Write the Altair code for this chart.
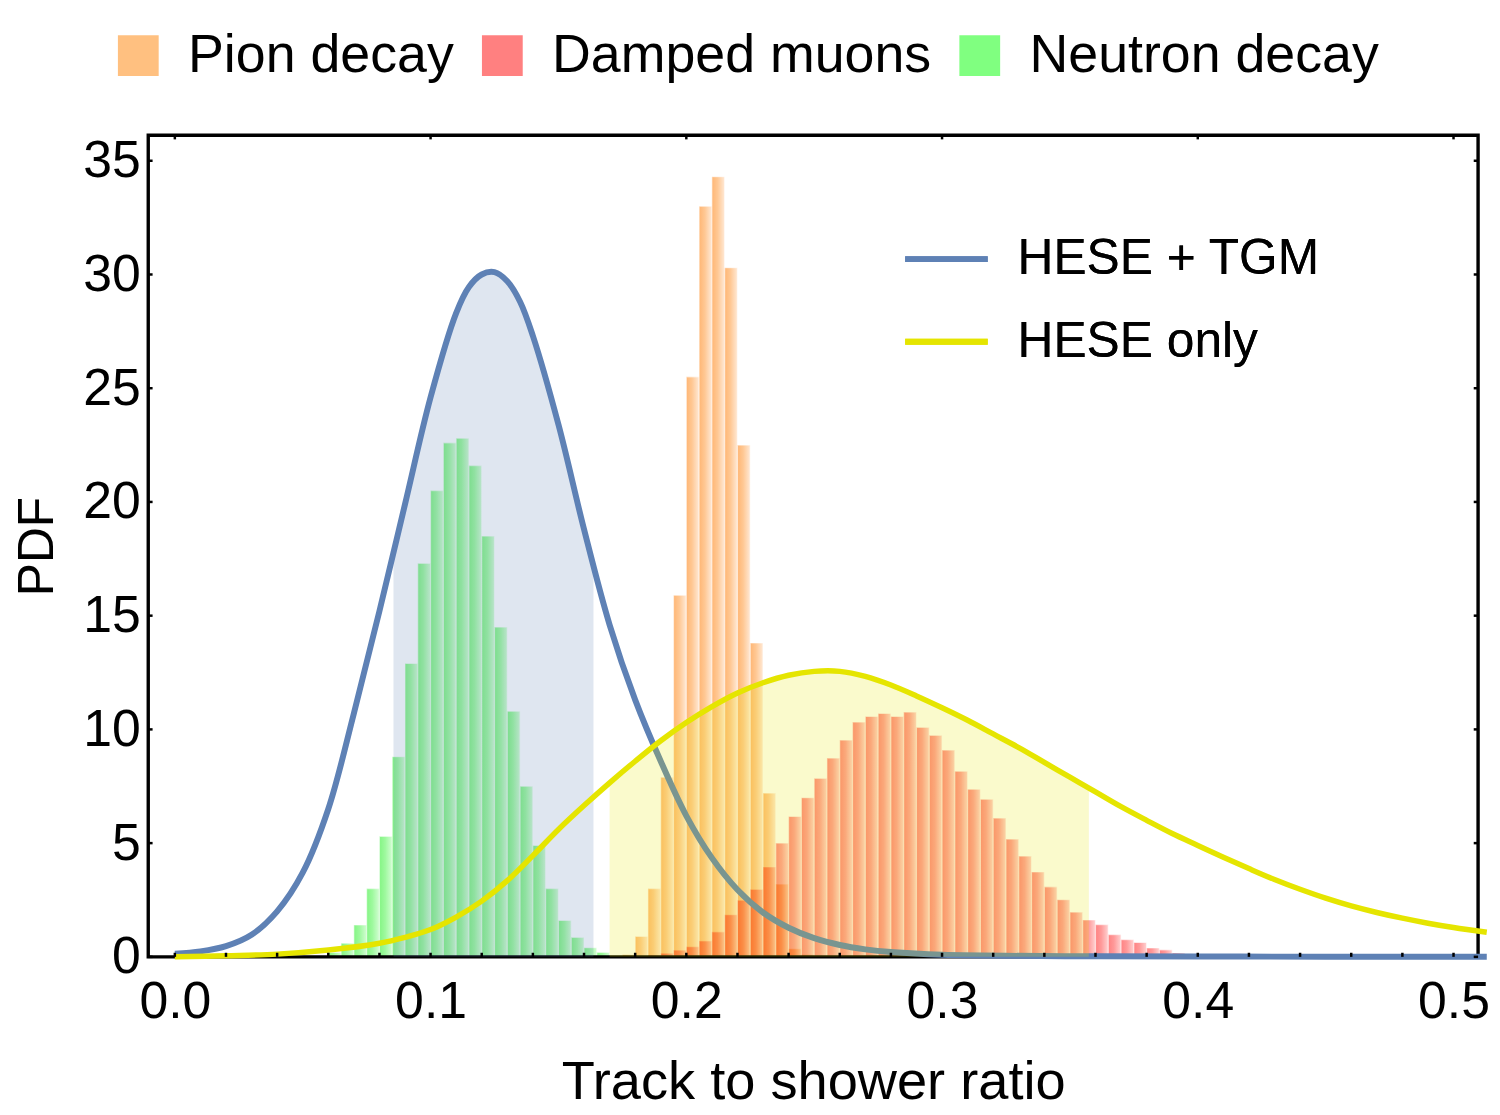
import altair as alt
import pandas as pd

# ---------------- data ----------------
series_names = ["Pion decay", "Damped muons", "Neutron decay"]
series_colors = ["#FFC080", "#FF8080", "#80FF80"]

bin_width = 0.005

pion_bins = [0.170, 0.175, 0.180, 0.185, 0.190, 0.195, 0.200, 0.205,
             0.210, 0.215, 0.220, 0.225, 0.230, 0.235, 0.240, 0.245]
pion_vals = [0.05, 0.1, 0.9, 3.0, 7.9, 15.9, 25.5, 33.0,
             34.3, 30.3, 22.5, 13.8, 7.2, 3.2, 0.36, 0.1]

muon_bins = [0.180, 0.185, 0.190, 0.195, 0.200, 0.205, 0.210, 0.215,
             0.220, 0.225, 0.230, 0.235, 0.240, 0.245, 0.250, 0.255,
             0.260, 0.265, 0.270, 0.275, 0.280, 0.285, 0.290, 0.295,
             0.300, 0.305, 0.310, 0.315, 0.320, 0.325, 0.330, 0.335,
             0.340, 0.345, 0.350, 0.355, 0.360, 0.365, 0.370, 0.375,
             0.380, 0.385, 0.390, 0.395, 0.400, 0.405]
muon_vals = [0.04, 0.08, 0.16, 0.3, 0.45, 0.7, 1.1, 1.85,
             2.49, 2.97, 3.95, 5.0, 6.17, 7.0, 7.85, 8.74,
             9.53, 10.32, 10.57, 10.70, 10.57, 10.76, 10.09, 9.74,
             9.09, 8.16, 7.37, 6.93, 6.10, 5.18, 4.43, 3.73,
             3.08, 2.51, 1.97, 1.62, 1.42, 0.98, 0.76, 0.63,
             0.39, 0.31, 0.17, 0.09, 0.04, 0.02]

neutron_bins = [0.060, 0.065, 0.070, 0.075, 0.080, 0.085, 0.090, 0.095,
                0.100, 0.105, 0.110, 0.115, 0.120, 0.125, 0.130, 0.135,
                0.140, 0.145, 0.150, 0.155, 0.160, 0.165]
neutron_vals = [0.2, 0.6, 1.4, 3.0, 5.3, 8.8, 12.9, 17.3,
                20.5, 22.6, 22.8, 21.6, 18.5, 14.5, 10.8, 7.5,
                4.9, 3.0, 1.6, 0.86, 0.4, 0.2]

curve_names = ["HESE + TGM", "HESE only"]
curve_colors = ["#5E81B5", "#E5E500"]

blue_x = [0.000, 0.010, 0.020, 0.030, 0.040, 0.050, 0.060, 0.070, 0.080,
          0.090, 0.100, 0.110, 0.115, 0.120, 0.125, 0.130, 0.135, 0.140,
          0.150, 0.160, 0.170, 0.180, 0.190, 0.200, 0.210, 0.220, 0.230,
          0.240, 0.250, 0.260, 0.270, 0.280, 0.300, 0.350, 0.400, 0.450,
          0.513]
blue_y = [0.14, 0.24, 0.47, 0.97, 2.0, 3.7, 6.5, 10.7, 15.2,
          19.9, 24.6, 28.3, 29.45, 30.0, 30.1, 29.7, 28.8, 27.3,
          23.4, 18.8, 14.6, 11.3, 8.6, 6.2, 4.35, 2.95, 1.95,
          1.28, 0.82, 0.52, 0.33, 0.21, 0.09, 0.03, 0.015, 0.008,
          0.0]

yellow_x = [0.000, 0.020, 0.040, 0.060, 0.080, 0.090, 0.100, 0.110, 0.120,
            0.130, 0.140, 0.150, 0.160, 0.170, 0.180, 0.190, 0.200, 0.210,
            0.220, 0.230, 0.240, 0.250, 0.260, 0.270, 0.280, 0.290, 0.300,
            0.310, 0.320, 0.330, 0.340, 0.350, 0.360, 0.370, 0.380, 0.390,
            0.400, 0.410, 0.420, 0.430, 0.440, 0.450, 0.460, 0.470, 0.480,
            0.490, 0.500, 0.513]
yellow_y = [0.0, 0.05, 0.12, 0.3, 0.6, 0.86, 1.2, 1.75, 2.45,
            3.35, 4.45, 5.6, 6.65, 7.65, 8.6, 9.5, 10.3, 11.0,
            11.6, 12.05, 12.38, 12.55, 12.55, 12.33, 11.95, 11.47, 10.95,
            10.4, 9.8, 9.2, 8.55, 7.9, 7.25, 6.6, 6.0, 5.42,
            4.9, 4.38, 3.88, 3.4, 2.97, 2.58, 2.24, 1.95, 1.7,
            1.48, 1.29, 1.08]

blue_band_x = [0.0855, 0.090, 0.100, 0.110, 0.115, 0.120, 0.125, 0.130, 0.135,
               0.140, 0.150, 0.160, 0.1637]
blue_band_y = [17.6, 19.9, 24.6, 28.3, 29.45, 30.0, 30.1, 29.7, 28.8,
               27.3, 23.4, 18.8, 17.2]

yellow_band_x = [0.1700, 0.180, 0.190, 0.200, 0.210, 0.220, 0.230, 0.240, 0.250,
                 0.260, 0.270, 0.280, 0.290, 0.300, 0.310, 0.320, 0.330, 0.340,
                 0.350, 0.3574]
yellow_band_y = [7.65, 8.6, 9.5, 10.3, 11.0, 11.6, 12.05, 12.38, 12.55,
                 12.55, 12.33, 11.95, 11.47, 10.95, 10.4, 9.8, 9.2, 8.55,
                 7.9, 7.42]

x_labels = [0.0, 0.1, 0.2, 0.3, 0.4, 0.5]
x_minor = [0.00, 0.02, 0.04, 0.06, 0.08, 0.10, 0.12, 0.14, 0.16, 0.18, 0.20,
           0.22, 0.24, 0.26, 0.28, 0.30, 0.32, 0.34, 0.36, 0.38, 0.40, 0.42,
           0.44, 0.46, 0.48, 0.50]
y_labels = [0, 5, 10, 15, 20, 25, 30, 35]

X_MIN, X_MAX = -0.0104, 0.5096
Y_MAX = 36.12

# ---------------- tables ----------------
def hist_df(bins, vals):
    return pd.DataFrame({"start": bins, "end": [b + bin_width for b in bins], "val": vals})

pion_df = hist_df(pion_bins, pion_vals)
muon_df = hist_df(muon_bins, muon_vals)
neutron_df = hist_df(neutron_bins, neutron_vals)
legend_df = pd.DataFrame({"series": series_names})

blue_df = pd.DataFrame({"x": blue_x, "y": blue_y, "curve": curve_names[0]})
yellow_df = pd.DataFrame({"x": yellow_x, "y": yellow_y, "curve": curve_names[1]})
blue_band_df = pd.DataFrame({"x": blue_band_x, "y": blue_band_y})
yellow_band_df = pd.DataFrame({"x": yellow_band_x, "y": yellow_band_y})

FONT = "Liberation Sans"
INTERP = "catmull-rom"
xscale = alt.Scale(domain=[X_MIN, X_MAX], nice=False, zero=False)
yscale = alt.Scale(domain=[0, Y_MAX], nice=False)
xaxis = alt.Axis(values=x_labels, format=".1f", labelFontSize=52, labelPadding=20,
                 title="Track to shower ratio", titleFontSize=54.5, titleFontWeight="normal",
                 titlePadding=28, labelFlush=False)
yaxis = alt.Axis(values=y_labels, format="d", labelFontSize=52, labelPadding=8,
                 title="PDF", titleFontSize=50, titleFontWeight="normal", titlePadding=20)


def ex(field, **kw):
    return alt.X(field, type="quantitative", scale=xscale, axis=xaxis, **kw)


def ey(field, **kw):
    return alt.Y(field, type="quantitative", scale=yscale, axis=yaxis, **kw)


def grad(c0, c1, c2):
    return alt.LinearGradient(
        gradient="linear", x1=0, x2=1, y1=0, y2=0,
        stops=[alt.GradientStop(color=c0, offset=0),
               alt.GradientStop(color=c1, offset=0.45),
               alt.GradientStop(color=c2, offset=1)])


def bars(df, g):
    return alt.Chart(df).mark_bar(color=g, blend="multiply", stroke="#FFFFFF",
                                  strokeOpacity=0.55, strokeWidth=1.2).encode(
        x=ex("start"), x2="end", y=ey("val"), y2=alt.datum(0.0))


legend_fill = alt.Legend(title=None, orient="none", direction="horizontal",
                         legendX=-37, legendY=-107, symbolType="square",
                         symbolSize=1681, symbolOpacity=1, symbolStrokeWidth=0,
                         labelFontSize=54, labelFont=FONT, labelColor="black",
                         labelOffset=23, columnPadding=21, padding=0, labelLimit=1000)

legend_stroke = alt.Legend(title=None, orient="none", direction="vertical",
                           legendX=758, legendY=80, symbolType="stroke",
                           symbolSize=6889, symbolStrokeWidth=6, symbolOpacity=1,
                           labelFontSize=50, labelFont=FONT, labelColor="black",
                           labelOffset=27, rowPadding=13, padding=0, labelLimit=1000)

stroke_enc = alt.Stroke("curve:N", scale=alt.Scale(domain=curve_names, range=curve_colors),
                        legend=legend_stroke)

legend_layer = alt.Chart(legend_df).mark_square(opacity=0, size=1).encode(
    x=alt.datum(0.2), y=alt.datum(1.0),
    color=alt.Color("series:N", scale=alt.Scale(domain=series_names, range=series_colors),
                    legend=legend_fill))

pion_layer = bars(pion_df, grad("#FFB674", "#FFC894", "#FFE9D6"))
muon_layer = bars(muon_df, grad("#FF8282", "#FF9A9A", "#FFD2D2"))
neutron_layer = bars(neutron_df, grad("#84F584", "#9EF99E", "#D2FDD2"))

blue_band = alt.Chart(blue_band_df).mark_area(color=curve_colors[0], opacity=0.2,
                                              interpolate=INTERP).encode(
    x=ex("x"), y=ey("y"))
yellow_band = alt.Chart(yellow_band_df).mark_area(color=curve_colors[1], opacity=0.2,
                                                  interpolate=INTERP).encode(
    x=ex("x"), y=ey("y"))

blue_line = alt.Chart(blue_df).mark_line(strokeWidth=6, interpolate=INTERP, clip=False).encode(
    x=ex("x"), y=ey("y"), stroke=stroke_enc)
yellow_line = alt.Chart(yellow_df).mark_line(strokeWidth=5.5, interpolate=INTERP, clip=False).encode(
    x=ex("x"), y=ey("y"), stroke=stroke_enc)

# inward tick marks (Mathematica-style frame ticks)
bottom_ticks = alt.Chart(pd.DataFrame({"t": x_minor})).mark_rule(color="black", strokeWidth=2.5).encode(
    x=ex("t"), y=alt.datum(0.0), y2=alt.datum(0.18))
top_ticks = alt.Chart(pd.DataFrame({"t": x_labels})).mark_rule(color="black", strokeWidth=2.5).encode(
    x=ex("t"), y=alt.datum(Y_MAX), y2=alt.datum(Y_MAX - 0.18))
left_ticks = alt.Chart(pd.DataFrame({"t": y_labels})).mark_rule(color="black", strokeWidth=2.5).encode(
    y=ey("t"), x=alt.datum(X_MIN), x2=alt.datum(X_MIN + 0.0017))
right_ticks = alt.Chart(pd.DataFrame({"t": y_labels})).mark_rule(color="black", strokeWidth=2.5).encode(
    y=ey("t"), x=alt.datum(X_MAX), x2=alt.datum(X_MAX - 0.0017))

chart = alt.layer(
    legend_layer, pion_layer, muon_layer, neutron_layer,
    blue_band, blue_line, yellow_band, yellow_line,
    bottom_ticks, top_ticks, left_ticks, right_ticks,
).resolve_scale(color="independent", stroke="independent").properties(
    width=1337, height=826,
    padding={"left": 141, "top": 125, "right": 14, "bottom": 150},
    autosize=alt.AutoSizeParams(type="none"),
    background="white",
).configure_view(
    stroke="black", strokeWidth=3.4
).configure_axis(
    domain=False, ticks=False, tickSize=0, grid=False,
    labelFont=FONT, titleFont=FONT, labelColor="black", titleColor="black"
)

chart.save("out.html", embed_options={"renderer": "svg", "actions": False})
